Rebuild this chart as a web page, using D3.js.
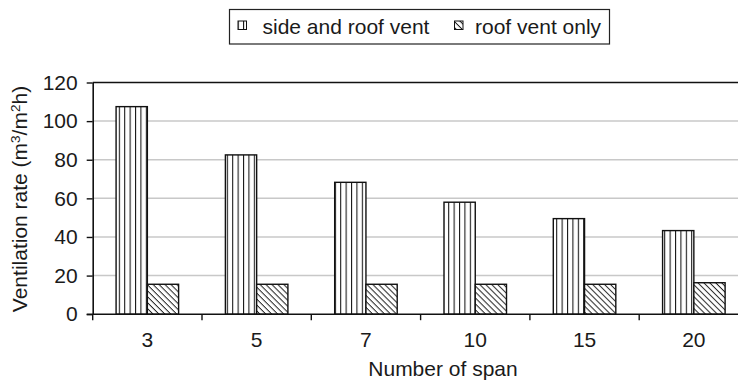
<!DOCTYPE html>
<html>
<head>
<meta charset="utf-8">
<script src="https://cdn.jsdelivr.net/npm/d3@7"></script>
<style>
  html, body { margin: 0; padding: 0; background: #fff; }
  svg { display: block; font-family: "Liberation Sans", Arial, sans-serif; }
</style>
</head>
<body>
<svg id="chart" width="738" height="381"></svg>
<script>
const categories = ["3", "5", "7", "10", "15", "20"];
const sideAndRoof = [107.5, 82.5, 68.3, 58, 49.5, 43.3];
const roofOnly = [15.5, 15.5, 15.5, 15.5, 15.5, 16.3];
const seriesNames = ["side and roof vent", "roof vent only"];
const yTicks = [0, 20, 40, 60, 80, 100, 120];

(function () {
const FS = 21;
const svg = d3.select("#chart");
const defs = svg.append("defs");

// vertical line pattern
const pv = defs.append("pattern").attr("id", "pv")
  .attr("patternUnits", "userSpaceOnUse").attr("width", 5.4).attr("height", 10);
pv.append("rect").attr("width", 5.4).attr("height", 10).attr("fill", "#fff");
pv.append("line").attr("x1", 0.5).attr("x2", 0.5).attr("y1", 0).attr("y2", 10)
  .attr("stroke", "#111").attr("stroke-width", 1.1);

// diagonal hatch pattern (\\)
const pd = defs.append("pattern").attr("id", "pd")
  .attr("patternUnits", "userSpaceOnUse").attr("width", 4.2).attr("height", 4.2)
  .attr("patternTransform", "rotate(45)");
pd.append("rect").attr("width", 4.2).attr("height", 4.2).attr("fill", "#fff");
pd.append("line").attr("x1", 0).attr("x2", 4.2).attr("y1", 0.5).attr("y2", 0.5)
  .attr("stroke", "#222").attr("stroke-width", 1);

const plotLeft = 92.7, plotTop = 82.5, plotBottom = 314.2;
const band = 109.3;
const x = d3.scaleBand().domain(categories).range([plotLeft, plotLeft + band * categories.length]).padding(0);
const y = d3.scaleLinear().domain([0, 120]).range([plotBottom, plotTop]);

// gridlines
svg.append("g").selectAll("line").data(yTicks.filter(d => d > 0 && d < 120)).join("line")
  .attr("x1", plotLeft).attr("x2", 738)
  .attr("y1", d => y(d)).attr("y2", d => y(d))
  .attr("stroke", "#c8c8c8").attr("stroke-width", 1.5);

// top border
svg.append("line").attr("x1", plotLeft).attr("x2", 738).attr("y1", y(120)).attr("y2", y(120))
  .attr("stroke", "#111").attr("stroke-width", 1.6);

// bars
const bw = band * 0.286;
const patterns = ["url(#pv)", "url(#pd)"];
[sideAndRoof, roofOnly].forEach((vals, si) => {
  svg.append("g").selectAll("rect").data(categories).join("rect")
    .attr("x", (c) => x(c) + x.bandwidth() / 2 - bw + si * bw)
    .attr("width", bw)
    .attr("y", (c, i) => y(vals[i]))
    .attr("height", (c, i) => y(0) - y(vals[i]))
    .attr("fill", patterns[si])
    .attr("stroke", "#111").attr("stroke-width", 1.4);
});

// y axis
const yAxis = svg.append("g").attr("transform", `translate(${plotLeft},0)`)
  .call(d3.axisLeft(y).tickValues(yTicks).tickSize(6).tickPadding(9).tickSizeOuter(0));
yAxis.select(".domain").attr("stroke", "#111").attr("stroke-width", 1.6);
yAxis.selectAll(".tick line").attr("stroke", "#111").attr("stroke-width", 1.4);
yAxis.selectAll("text").attr("font-size", FS).attr("fill", "#1a1a1a")
  .attr("font-family", "'Liberation Sans', Arial, sans-serif");

// x axis
const xAxis = svg.append("g").attr("transform", `translate(0,${plotBottom})`)
  .call(d3.axisBottom(x).tickSize(0).tickPadding(0));
xAxis.select(".domain").remove();
svg.append("line").attr("x1", plotLeft - 6).attr("x2", 738).attr("y1", plotBottom).attr("y2", plotBottom)
  .attr("stroke", "#111").attr("stroke-width", 1.6);
xAxis.selectAll("text").attr("font-size", FS).attr("fill", "#1a1a1a")
  .attr("dy", null).attr("y", 32.5)
  .attr("font-family", "'Liberation Sans', Arial, sans-serif");
// x boundary ticks
const bounds = d3.range(categories.length + 1).map(i => plotLeft + i * x.step());
svg.append("g").selectAll("line").data(bounds).join("line")
  .attr("x1", d => d).attr("x2", d => d).attr("y1", plotBottom).attr("y2", plotBottom + 6)
  .attr("stroke", "#111").attr("stroke-width", 1.4);

// axis titles
svg.append("text").attr("x", 443).attr("y", 376).attr("text-anchor", "middle")
  .attr("font-size", FS).attr("fill", "#1a1a1a").text("Number of span");

const yt = svg.append("text").attr("transform", "translate(27,199) rotate(-90)")
  .attr("text-anchor", "middle").attr("font-size", FS).attr("fill", "#1a1a1a");
yt.append("tspan").text("Ventilation rate (m");
yt.append("tspan").attr("dy", -7).attr("font-size", 13.5).text("3");
yt.append("tspan").attr("dy", 7).text("/m");
yt.append("tspan").attr("dy", -7).attr("font-size", 13.5).text("2");
yt.append("tspan").attr("dy", 7).text("h)");

// legend
const lg = svg.append("g");
lg.append("rect").attr("x", 229.5).attr("y", 9.5).attr("width", 380).attr("height", 34.5)
  .attr("fill", "#fff").attr("stroke", "#222").attr("stroke-width", 1.2);
const legendItems = [
  { sx: 238, tx: 262.5, fill: patterns[0] },
  { sx: 454.5, tx: 475, fill: patterns[1] }
];
legendItems.forEach((it, i) => {
  lg.append("rect").attr("x", it.sx).attr("y", 21).attr("width", 8.5).attr("height", 8.5)
    .attr("fill", it.fill).attr("stroke", "#111").attr("stroke-width", 1);
  lg.append("text").attr("x", it.tx).attr("y", 33.5).attr("font-size", FS)
    .attr("fill", "#1a1a1a").text(seriesNames[i]);
});
})();
</script>
</body>
</html>
